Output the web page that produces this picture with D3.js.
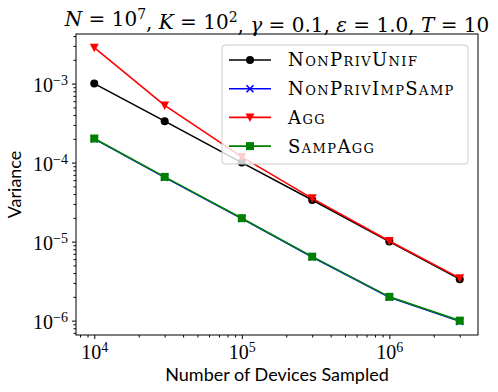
<!DOCTYPE html>
<html>
<head>
<meta charset="utf-8">
<script src="https://cdn.jsdelivr.net/npm/d3@7"></script>
<style>
  body { margin: 0; background: #fff; }
  svg { display: block; }
  .serif { font-family: "Liberation Serif", "DejaVu Serif", serif; }
  .wide { font-family: "DejaVu Serif", serif; }
  .sans { font-family: Lato, "Open Sans", sans-serif; }
</style>
</head>
<body>
<div id="chart"></div>
<script>
// devices sampled (x) and variance per method
const devices = [1e4, 3e4, 1e5, 3e5, 1e6, 3e6];
const nonPrivUnif = [1.0e-3, 3.35e-4, 1.0e-4, 3.37e-5, 1.0e-5, 3.35e-6];
const nonPrivImpSamp = [2.0e-4, 6.5e-5, 1.96e-5, 6.4e-6, 1.98e-6, 0.98e-6];
const agg = [2.85e-3, 5.3e-4, 1.18e-4, 3.53e-5, 1.02e-5, 3.45e-6];
const sampAgg = [2.02e-4, 6.6e-5, 1.98e-5, 6.45e-6, 2.0e-6, 1.0e-6];

const seriesNames = ["NonPrivUnif", "NonPrivImpSamp", "Agg", "SampAgg"];
const seriesColors = ["#000000", "#0000ff", "#ff0000", "#008000"];
const seriesMarkers = ["circle", "x", "triDown", "square"];
const seriesValues = [nonPrivUnif, nonPrivImpSamp, agg, sampAgg];

const xTicks = [1e4, 1e5, 1e6];
const yTicks = [1e-6, 1e-5, 1e-4, 1e-3];

const width = 498, height = 392;
const margin = {top: 34, right: 20, bottom: 57, left: 76};

let svg = d3.select("#chart").append("svg")
    .attr("width", width)
    .attr("height", height);

// log padding like matplotlib (5% each side)
function padLog(lo, hi) {
    let a = Math.log10(lo), b = Math.log10(hi), p = (b - a) * 0.05;
    return [Math.pow(10, a - p), Math.pow(10, b + p)];
}
let allY = seriesValues.flat();
let xScale = d3.scaleLog()
    .domain(padLog(d3.min(devices), d3.max(devices)))
    .range([margin.left, width - margin.right]);
let yScale = d3.scaleLog()
    .domain(padLog(d3.min(allY), d3.max(allY)))
    .range([height - margin.bottom, margin.top]);

// minor ticks 2..9 within domain
function minorTicks(scale) {
    let [lo, hi] = scale.domain();
    let out = [];
    for (let e = Math.floor(Math.log10(lo)); e <= Math.ceil(Math.log10(hi)); e++) {
        for (let m = 2; m <= 9; m++) {
            let v = m * Math.pow(10, e);
            if (v >= lo && v <= hi) out.push(v);
        }
    }
    return out;
}

function supLabel(sel) {
    sel.each(function(d) {
        let t = d3.select(this).text("");
        let e = Math.round(Math.log10(d));
        t.append("tspan").text("10");
        t.append("tspan").attr("dy", "-0.5em").style("font-size", "14px")
            .text(e < 0 ? "\u2212" + (-e) : e);
    });
}

let xAxisY = height - margin.bottom;

// minor ticks
svg.append("g").attr("transform", `translate(0,${xAxisY})`)
    .call(d3.axisBottom(xScale).tickValues(minorTicks(xScale)).tickSize(2.5).tickFormat(""))
    .call(g => g.select(".domain").remove());
svg.append("g").attr("transform", `translate(${margin.left},0)`)
    .call(d3.axisLeft(yScale).tickValues(minorTicks(yScale)).tickSize(2.5).tickFormat(""))
    .call(g => g.select(".domain").remove());

// major ticks
let xAxis = svg.append("g").attr("transform", `translate(0,${xAxisY})`)
    .call(d3.axisBottom(xScale).tickValues(xTicks).tickSize(4).tickPadding(4));
xAxis.select(".domain").remove();
xAxis.selectAll("text").attr("class", "serif").style("font-size", "20px").attr("fill", "#000")
    .attr("dy", "0.8em").call(supLabel);

let yAxis = svg.append("g").attr("transform", `translate(${margin.left},0)`)
    .call(d3.axisLeft(yScale).tickValues(yTicks).tickSize(4).tickPadding(4));
yAxis.select(".domain").remove();
yAxis.selectAll("text").attr("class", "serif").style("font-size", "20px").attr("fill", "#000")
    .attr("dy", "0.4em").call(supLabel);

// lines and markers
let line = d3.line().x(d => xScale(d[0])).y(d => yScale(d[1]));

function drawMarker(g, type, x, y, color) {
    if (type === "circle") {
        g.append("circle").attr("cx", x).attr("cy", y).attr("r", 4).attr("fill", color);
    } else if (type === "square") {
        g.append("rect").attr("x", x - 4).attr("y", y - 4).attr("width", 8).attr("height", 8).attr("fill", color);
    } else if (type === "triDown") {
        g.append("path").attr("d", `M${x - 4.5},${y - 4}L${x + 4.5},${y - 4}L${x},${y + 4.5}Z`).attr("fill", color);
    } else if (type === "x") {
        g.append("path").attr("d", `M${x - 3.5},${y - 3.5}L${x + 3.5},${y + 3.5}M${x - 3.5},${y + 3.5}L${x + 3.5},${y - 3.5}`)
            .attr("stroke", color).attr("stroke-width", 1.6);
    }
}

seriesValues.forEach((vals, i) => {
    let pts = devices.map((d, j) => [d, vals[j]]);
    let g = svg.append("g");
    g.append("path").datum(pts)
        .attr("d", line)
        .attr("fill", "none")
        .attr("stroke", seriesColors[i])
        .attr("stroke-width", 1.6);
    pts.forEach(p => drawMarker(g, seriesMarkers[i], xScale(p[0]), yScale(p[1]), seriesColors[i]));
});

// frame
svg.append("rect")
    .attr("x", margin.left).attr("y", margin.top)
    .attr("width", width - margin.left - margin.right)
    .attr("height", height - margin.top - margin.bottom)
    .attr("fill", "none").attr("stroke", "#000").attr("stroke-width", 1);

// legend
let lg = svg.append("g").attr("transform", "translate(222,45)");
lg.append("rect").attr("width", 246).attr("height", 119).attr("rx", 3)
    .attr("fill", "#fff").attr("fill-opacity", 0.8)
    .attr("stroke", "#ccc").attr("stroke-width", 1);
seriesNames.forEach((name, i) => {
    let yy = 15 + i * 28.7;
    lg.append("line").attr("x1", 7).attr("x2", 49).attr("y1", yy).attr("y2", yy)
        .attr("stroke", seriesColors[i]).attr("stroke-width", 1.6);
    drawMarker(lg, seriesMarkers[i], 28, yy, seriesColors[i]);
    lg.append("text").attr("class", "wide")
        .attr("x", 66).attr("y", yy).attr("dy", "0.36em")
        .style("font-size", "18px").style("font-variant", "small-caps")
        .style("letter-spacing", "1.4px")
        .text(name);
});

// title
let title = svg.append("text").attr("class", "wide")
    .attr("x", (margin.left + width - margin.right) / 2).attr("y", 26)
    .attr("text-anchor", "middle").style("font-size", "20px");
const titleParts = [
    ["N", true], [" = 10", false], ["7", "sup"], [", ", false],
    ["K", true], [" = 10", false], ["2", "sup"], [", ", false],
    ["\u03b3", true], [" = 0.1, ", false],
    ["\u03b5", true], [" = 1.0, ", false],
    ["T", true], [" = 10", false]
];
titleParts.forEach(([txt, kind]) => {
    let t = title.append("tspan").text(txt);
    if (kind === true) t.style("font-style", "italic");
    if (kind === "sup") {
        t.attr("dy", "-0.5em").style("font-size", "14px");
    }
});
// restore baseline after superscripts
title.selectAll("tspan").each(function(d, i, nodes) {
    if (i > 0 && titleParts[i - 1][1] === "sup") d3.select(this).attr("dy", "0.5em");
});

// axis labels
svg.append("text").attr("class", "sans")
    .attr("x", (margin.left + width - margin.right) / 2).attr("y", 381)
    .attr("text-anchor", "middle").style("font-size", "18px")
    .text("Number of Devices Sampled");
svg.append("text").attr("class", "sans")
    .attr("transform", `translate(21,${(margin.top + height - margin.bottom) / 2}) rotate(-90)`)
    .attr("text-anchor", "middle").style("font-size", "18px")
    .text("Variance");
</script>
</body>
</html>
